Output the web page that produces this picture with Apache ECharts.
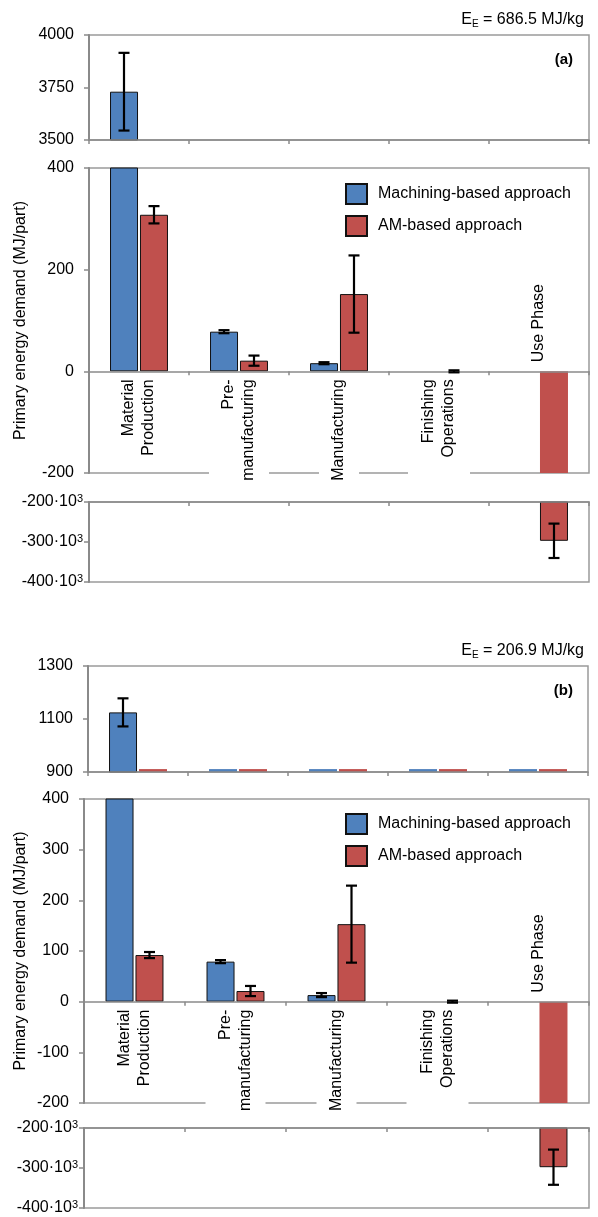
<!DOCTYPE html>
<html>
<head>
<meta charset="utf-8">
<script src="https://cdn.jsdelivr.net/npm/echarts@6/dist/echarts.min.js"></script>
<style>
html,body{margin:0;padding:0;background:#fff;}
#chart{width:598px;height:1217px;}
</style>
</head>
<body>
<div id="chart"></div>
<script>
// ---------- DATA ----------
const categories = ['Material\nProduction', 'Pre-\nmanufacturing', 'Manufacturing', 'Finishing\nOperations', 'Use Phase'];
const seriesNames = ['Machining-based approach', 'AM-based approach'];
const yTitle = 'Primary energy demand (MJ/part)';

// Panel (a): E_E = 686.5 MJ/kg
const energyA = '686.5';
const machiningA = [3730, 78, 16, 0, 0];
const machiningErrA = [185, 3, 2, 0, 0];
const amA = [308, 21, 152, 0, -297000];
const amErrA = [17, 10, 76, 2, 43000];
const topTicksA = [3500, 3750, 4000];
const midTicksA = [-200, 0, 200, 400];

// Panel (b): E_E = 206.9 MJ/kg
const energyB = '206.9';
const machiningB = [1125, 79, 13, 0, 0];
const machiningErrB = [53, 3, 4, 0, 0];
const amB = [92, 21, 153, 0, -298000];
const amErrB = [6, 10, 76, 2, 44000];
const topTicksB = [900, 1100, 1300];
const midTicksB = [-200, -100, 0, 100, 200, 300, 400];

const lowTicks = [-400000, -300000, -200000];

// ---------- STYLE ----------
const BLUE = '#4F81BD', RED = '#C0504D';
const AXIS = '#8a8a8a', BORDER = '#9a9a9a';
const FONT = '"Liberation Sans", Arial, Helvetica, sans-serif';

const panels = [
  { label: '(a)', energy: energyA, mach: machiningA, machErr: machiningErrA, am: amA, amErr: amErrA,
    topTicks: topTicksA, midTicks: midTicksA, stubs: false,
    grids: [ {left: 89, top: 35, width: 500, height: 105},
             {left: 89, top: 168, width: 500, height: 305},
             {left: 89, top: 502, width: 500, height: 80} ],
    titleTop: 6, tagTop: 47, legendTop: 183, nameGap: 60 },
  { label: '(b)', energy: energyB, mach: machiningB, machErr: machiningErrB, am: amB, amErr: amErrB,
    topTicks: topTicksB, midTicks: midTicksB, stubs: true,
    grids: [ {left: 88, top: 666, width: 500, height: 106},
             {left: 84, top: 799, width: 505, height: 304},
             {left: 84, top: 1128, width: 505, height: 80} ],
    titleTop: 637, tagTop: 678, legendTop: 813, nameGap: 55 }
];

function tickRange(t) { return {min: t[0], max: t[t.length - 1], interval: t[1] - t[0]}; }

const grid = [], xAxis = [], yAxis = [], series = [], title = [], legend = [];

function catData(level) {
  if (level !== 1) return categories;
  return categories.map((c, i) => {
    if (i === 0) return c;
    if (i === 4) return { value: c, textStyle: { align: 'left', padding: [0, 0, 0, 17] } };
    const pads = [null, [10, 0, 10, 6], [10, 0, 10, 6], [11, 0, 11, 20]];
    return { value: c, textStyle: { backgroundColor: '#fff', padding: pads[i] } };
  });
}

function errRender(params, api) {
  const cat = api.value(0), v = api.value(1), e = api.value(2), off = api.value(3);
  if (!(e > 0)) return;
  const cs = params.coordSys;
  const x = api.coord([cat, v])[0] + off;
  const yHi = api.coord([cat, v + e])[1];
  const yLo = api.coord([cat, v - e])[1];
  const top = cs.y, bot = cs.y + cs.height;
  if (yLo < top || yHi > bot) return;
  const st = { stroke: '#000', lineWidth: 2.2 };
  const ch = [{ type: 'line', shape: { x1: x, y1: Math.max(yHi, top), x2: x, y2: Math.min(yLo, bot) }, style: st }];
  if (yHi >= top) ch.push({ type: 'line', shape: { x1: x - 5.5, y1: yHi, x2: x + 5.5, y2: yHi }, style: st });
  if (yLo <= bot) ch.push({ type: 'line', shape: { x1: x - 5.5, y1: yLo, x2: x + 5.5, y2: yLo }, style: st });
  return { type: 'group', children: ch };
}

panels.forEach((p, pi) => {
  const ranges = [tickRange(p.topTicks), tickRange(p.midTicks), tickRange(lowTicks)];
  p.grids.forEach((g, L) => {
    const gi = grid.length;
    const r = ranges[L];
    grid.push(Object.assign({ show: true, borderColor: BORDER, borderWidth: 1.5, z: 0 }, g));
    // middle grid: axis drawn at the zero value
    const zeroOffset = L === 1 ? -g.height * (0 - r.min) / (r.max - r.min) : 0;
    xAxis.push({
      type: 'category', gridIndex: gi, data: catData(L), z: 3,
      position: L === 2 ? 'top' : 'bottom', offset: zeroOffset,
      axisLine: { show: true, onZero: false, lineStyle: { color: AXIS, width: 1.5 } },
      axisTick: { show: true, length: 4, inside: L === 2, lineStyle: { color: AXIS, width: 1.5 } },
      axisLabel: L === 1 ? { show: true, interval: 0, rotate: 90, margin: 8, fontSize: 16, lineHeight: 20,
                             color: '#000', fontFamily: FONT } : { show: false },
      splitLine: { show: false }
    });
    yAxis.push({
      type: 'value', gridIndex: gi, min: r.min, max: r.max, interval: r.interval, z: 3,
      name: L === 1 ? yTitle : '', nameLocation: 'middle', nameGap: p.nameGap, nameMoveOverlap: false,
      nameTextStyle: { fontSize: 16, color: '#000', fontFamily: FONT },
      axisLine: { show: true, lineStyle: { color: AXIS, width: 2 } },
      axisTick: { show: true, length: 5, lineStyle: { color: AXIS, width: 1.5 } },
      splitLine: { show: false },
      axisLabel: L === 2 ? {
        margin: 6, fontFamily: FONT, color: '#000',
        formatter: v => '{n|' + (v / 1000) + '·10}{s|3}',
        rich: { n: { fontSize: 16, lineHeight: 18, color: '#000', fontFamily: FONT },
                s: { fontSize: 11, lineHeight: 10, verticalAlign: 'top', color: '#000', fontFamily: FONT } }
      } : { margin: 15, fontSize: 16, color: '#000', fontFamily: FONT, formatter: v => String(v) }
    });

    const mapVal = (v) => {
      if (L === 0 && p.stubs && v < r.min) return { value: r.min + 11, itemStyle: { borderWidth: 0 } };
      if (v === 0) return null;
      if (L === 1 && v < r.min) return { value: v, itemStyle: { borderWidth: 0 } };
      return v;
    };
    [[p.mach, BLUE, 0], [p.am, RED, 1]].forEach(([vals, col, k]) => {
      series.push({
        type: 'bar', name: seriesNames[k], xAxisIndex: gi, yAxisIndex: gi,
        data: vals.map(mapVal), barWidth: 28, barGap: '7%', z: 2,
        itemStyle: { color: col, borderColor: '#111', borderWidth: 1 },
        emphasis: { disabled: true }, animation: false
      });
    });
    const errData = [];
    p.mach.forEach((v, i) => errData.push([i, v, p.machErr[i], -15]));
    p.am.forEach((v, i) => errData.push([i, v, p.amErr[i], 15]));
    series.push({
      type: 'custom', name: 'err', xAxisIndex: gi, yAxisIndex: gi, z: 4,
      renderItem: errRender, data: errData, encode: { x: 0, y: 1 }, animation: false, silent: true
    });
  });

  title.push({
    text: '{m|E}{s|E}{m| = ' + p.energy + ' MJ/kg}', right: 9, top: p.titleTop,
    textStyle: { fontWeight: 'normal', rich: {
      m: { fontSize: 16, lineHeight: 18, fontWeight: 'normal', color: '#000', fontFamily: FONT },
      s: { fontSize: 10, lineHeight: 10, fontWeight: 'normal', verticalAlign: 'bottom', color: '#000', fontFamily: FONT } } }
  });
  title.push({ text: p.label, right: 20, top: p.tagTop,
    textStyle: { fontSize: 15, fontWeight: 'bold', color: '#000', fontFamily: FONT } });
  legend.push({
    data: seriesNames, left: 345, top: p.legendTop, orient: 'vertical', padding: 0,
    itemGap: 10, itemWidth: 21, itemHeight: 20, icon: 'rect', selectedMode: false,
    textStyle: { fontSize: 16, color: '#000', fontFamily: FONT, padding: [0, 0, 0, 6] }
  });
});

const chart = echarts.init(document.getElementById('chart'), null, { renderer: 'canvas' });
chart.setOption({ animation: false, backgroundColor: '#fff', title, legend, grid, xAxis, yAxis, series });
</script>
</body>
</html>
